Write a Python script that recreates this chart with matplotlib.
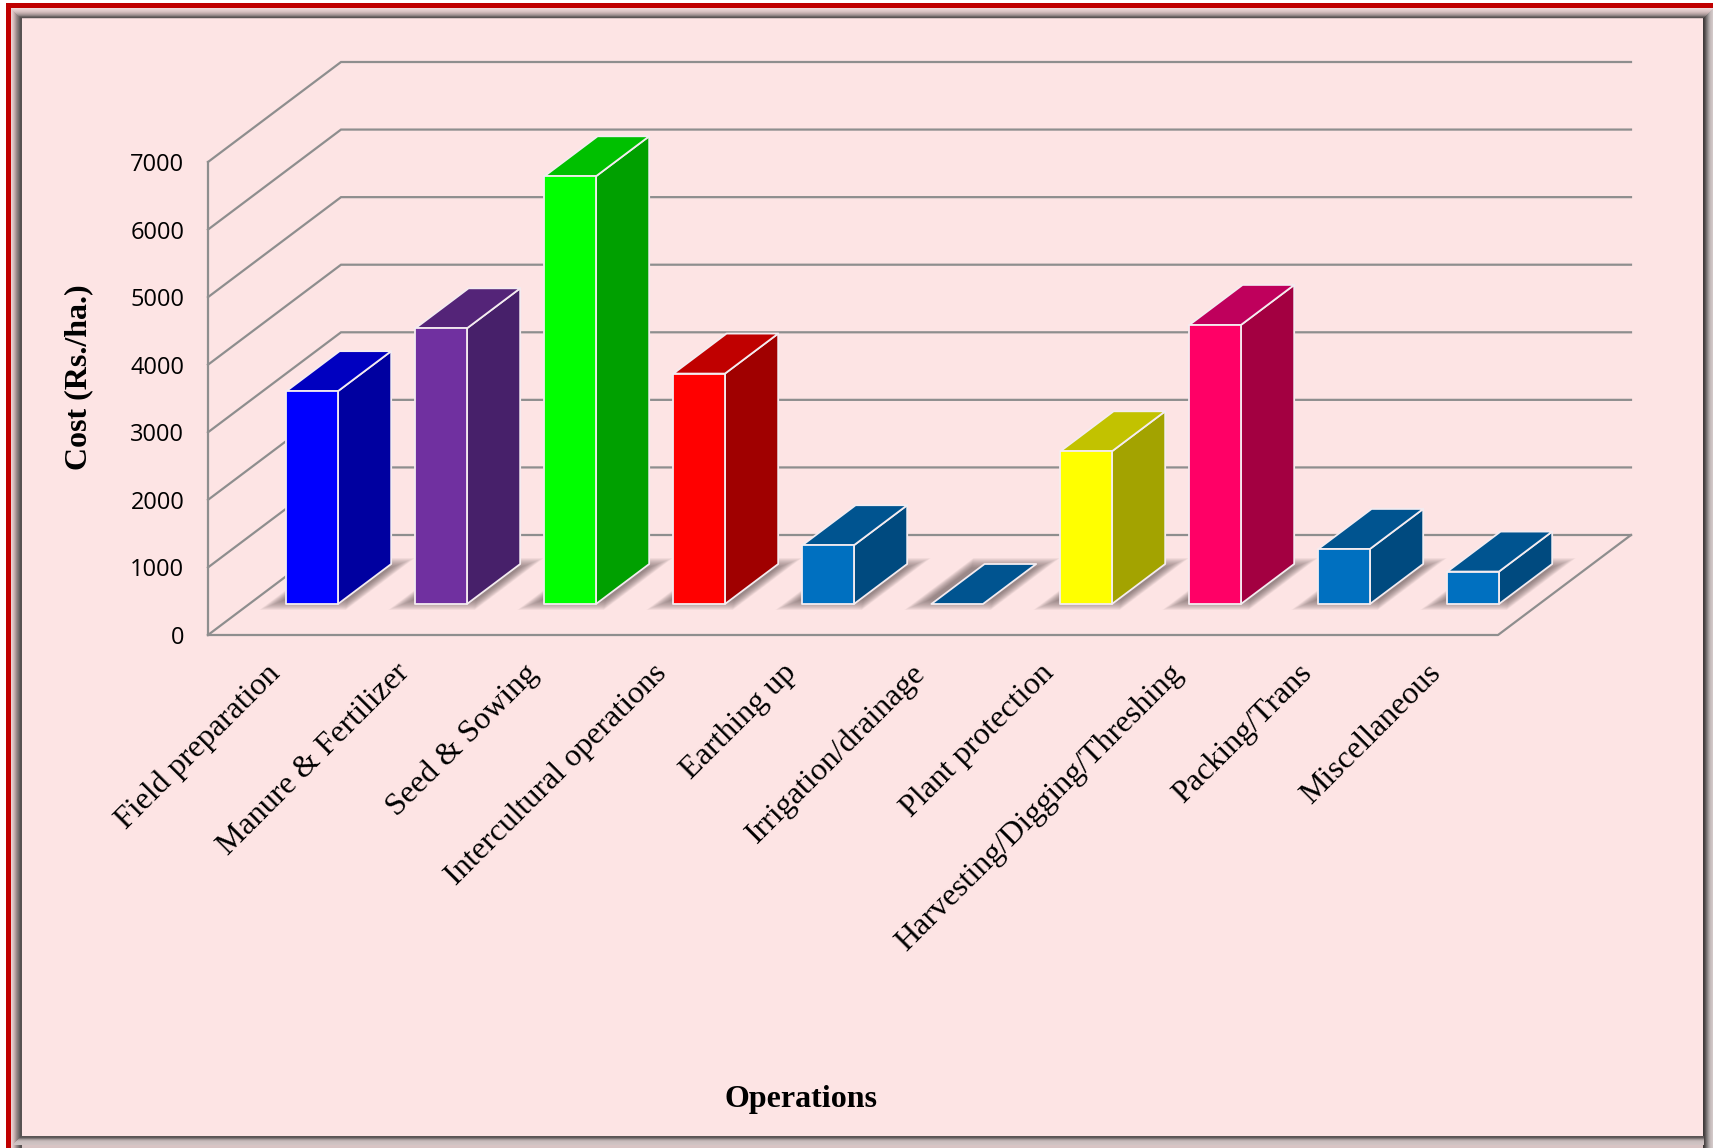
import matplotlib
matplotlib.use("Agg")
import numpy as np
import matplotlib.pyplot as plt
from matplotlib.patches import Polygon, Rectangle
from matplotlib.transforms import Affine2D

# ------------------------------
# Data
# ------------------------------
categories = ["Field preparation", "Manure & Fertilizer", "Seed & Sowing",
              "Intercultural operations", "Earthing up", "Irrigation/drainage",
              "Plant protection", "Harvesting/Digging/Threshing", "Packing/Trans",
              "Miscellaneous"]
costs = [3150, 4080, 6330, 3410, 870, 0, 2260, 4130, 815, 480]
y_ticks = [0, 1000, 2000, 3000, 4000, 5000, 6000, 7000]

front_colors = ["#0000FF", "#7030A0", "#00FF00", "#FF0000", "#0070C0",
                "#0070C0", "#FFFF00", "#FF0066", "#0070C0", "#0070C0"]
side_colors = ["#0000A0", "#47206A", "#00A000", "#A00000", "#004A7F",
               "#004A7F", "#A3A300", "#A30041", "#004A7F", "#004A7F"]
top_colors = ["#0000C0", "#542478", "#00C000", "#C00000", "#005490",
              "#005490", "#C2C200", "#BF005C", "#005490", "#005490"]

# ------------------------------
# Layout (pixels of the 1713x1148 picture)
# ------------------------------
W, H = 1713, 1148
AX_LEFT, AX_RIGHT, AX_BOTTOM, AX_TOP = 208, 1498, 635, 162
BG = "#FDE4E4"
GRID = "#8E8E8E"
GRID_LW = 1.6

# depth of the 3D box, in data units
DEPTH_X = 133 / 129
DEPTH_Y = 100 / ((AX_BOTTOM - AX_TOP) / 7000)
BAR_W = 0.40
BAR_SHIFT = -0.012
D0, D1 = 0.31, 0.71


def proj(x, v, d):
    return (x + d * DEPTH_X, v + d * DEPTH_Y)


fig = plt.figure(figsize=(W / 100, H / 100), dpi=100, facecolor="white")

# ------------------------------
# Frame
# ------------------------------
bg = fig.add_axes([0, 0, 1, 1], zorder=0)
bg.set_xlim(0, W)
bg.set_ylim(H, 0)
bg.axis("off")
bg.add_patch(Rectangle((6, 3), W - 6, H - 3, color="#D8C4C4", lw=0))
bg.add_patch(Rectangle((6, 3), W - 6, 5, color="#C00000", lw=0))
bg.add_patch(Rectangle((6, 3), 5, H - 3, color="#C00000", lw=0))

left_band = ["#EAD2D2", "#E0C8C8", "#D4BCBC", "#C4ACAC", "#B09C9C", "#9A8A8A",
             "#8A7C7C", "#787070", "#666060", "#585252", "#585252"]
for i, c in enumerate(left_band):
    bg.add_patch(Rectangle((11 + i, 8 + i), 1, H - 8 - i, color=c, lw=0))
top_band = ["#EEDADA", "#E8D2D2", "#E0CACA", "#D8C2C2", "#CCB6B6", "#BCA8A8",
            "#A89898", "#908484", "#6E6666", "#5A5454"]
for i, c in enumerate(top_band):
    bg.add_patch(Rectangle((11 + i, 8 + i), W - 11 - i, 1, color=c, lw=0))
right_band = ["#3E3A3A", "#4A4545", "#5E5858", "#747070", "#8A8484", "#A09A9A",
              "#B4ACAC", "#C4BABA", "#CCC2C2", "#D2C8C8"]
for i, c in enumerate(right_band):
    bg.add_patch(Rectangle((1703 + i, 18 - i), 1, H - 18 + i, color=c, lw=0))
bottom_band = ["#5A5454", "#605A5A", "#807878", "#A49A9A", "#BCB0B0", "#C8BCBC",
               "#CCC0C0", "#CEC2C2", "#D0C4C4"]
for i, c in enumerate(bottom_band):
    bg.add_patch(Rectangle((21 - i, 1136 + i), 1683 + i, 1, color=c, lw=0))
bg.add_patch(Rectangle((22, 19), 1703 - 22, 1136 - 19, color=BG, lw=0))

# ------------------------------
# Chart axes
# ------------------------------
ax = fig.add_axes([AX_LEFT / W, 1 - AX_BOTTOM / H,
                   (AX_RIGHT - AX_LEFT) / W, (AX_BOTTOM - AX_TOP) / H], zorder=1)
ax.patch.set_visible(False)
ax.set_xlim(0, len(categories))
ax.set_ylim(0, 7000)
for s in ax.spines.values():
    s.set_visible(False)

x_pos = np.arange(len(categories)) + 0.5
ax.set_xticks(x_pos)
ax.set_xticklabels(categories, rotation=45, ha="right", va="top", rotation_mode="anchor",
                   family="Liberation Serif", fontsize=23)
ax.set_yticks(y_ticks)
ax.set_yticklabels([str(v) for v in y_ticks], family="Open Sans", fontsize=17)
ax.tick_params(axis="x", length=0, pad=17)
ax.tick_params(axis="y", length=0, pad=17)
for lab in ax.get_xticklabels():
    lab.set_transform(lab.get_transform() + Affine2D().translate(-7, 0))

ax.set_xlabel("Operations", family="Liberation Serif", fontweight="bold", fontsize=23)
ax.xaxis.set_label_coords((801 - AX_LEFT) / (AX_RIGHT - AX_LEFT),
                          (AX_BOTTOM - 1085) / (AX_BOTTOM - AX_TOP))
ax.set_ylabel("Cost (Rs./ha.)", family="Liberation Serif", fontweight="bold", fontsize=23)
ax.yaxis.set_label_coords((93 - AX_LEFT) / (AX_RIGHT - AX_LEFT),
                          (AX_BOTTOM - 377) / (AX_BOTTOM - AX_TOP))

# walls and floor
n = len(categories)
for v in y_ticks:
    p0, p1, p2 = proj(0, v, 0), proj(0, v, 1), proj(n, v, 1)
    ax.plot([p0[0], p1[0], p2[0]], [p0[1], p1[1], p2[1]], color=GRID, lw=GRID_LW,
            clip_on=False, zorder=1, solid_joinstyle="miter")
ax.plot([0, 0], [0, 7000], color=GRID, lw=GRID_LW, clip_on=False, zorder=1)
fr, br = proj(n, 0, 0), proj(n, 0, 1)
ax.plot([0, fr[0], br[0]], [0, fr[1], br[1]], color=GRID, lw=GRID_LW, clip_on=False, zorder=1)


# ------------------------------
# Bars
# ------------------------------
def draw_shadow(x):
    # stacked see-through parallelograms, growing outwards, fake the soft blur
    for t in np.linspace(0, 1, 24):
        l, r = x - 0.27 - 0.09 * t, x + 0.22 + 0.09 * t
        d0, d1 = 0.35 - 0.10 * t, 0.67 + 0.10 * t
        pts = [proj(l, 0, d0), proj(r, 0, d0), proj(r, 0, d1), proj(l, 0, d1)]
        ax.add_patch(Polygon(pts, closed=True, facecolor=(0.42, 0.36, 0.36, 0.04),
                             lw=0, clip_on=False, zorder=2))


def draw_bar(x, v, front, side, top):
    l, r = x - BAR_W / 2 + BAR_SHIFT, x + BAR_W / 2 + BAR_SHIFT
    faces = [
        ([proj(r, 0, D0), proj(r, 0, D1), proj(r, v, D1), proj(r, v, D0)], side),
        ([proj(l, v, D0), proj(r, v, D0), proj(r, v, D1), proj(l, v, D1)], top),
        ([proj(l, 0, D0), proj(r, 0, D0), proj(r, v, D0), proj(l, v, D0)], front),
    ]
    if v == 0:
        faces = [faces[1]]
    for pts, c in faces:
        ax.add_patch(Polygon(pts, closed=True, facecolor=c, edgecolor="#F4ECF0", lw=1.3,
                             joinstyle="round", clip_on=False, zorder=3))


for x in x_pos:
    draw_shadow(x)
for x, v, f, s, t in zip(x_pos, costs, front_colors, side_colors, top_colors):
    draw_bar(x, v, f, s, t)

fig.savefig("out.png", dpi=100, facecolor=fig.get_facecolor())
